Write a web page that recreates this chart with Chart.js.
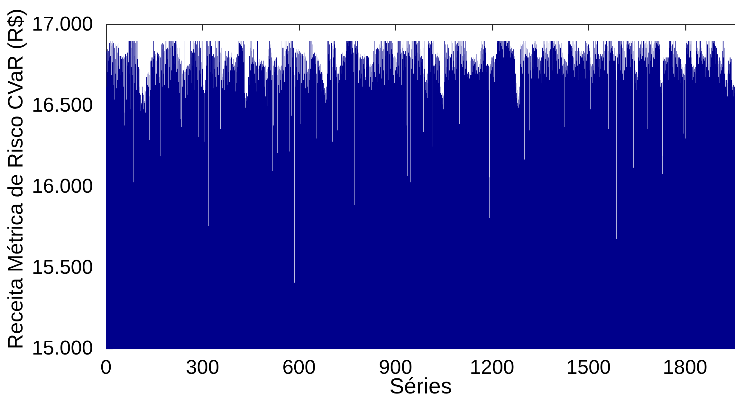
<!DOCTYPE html>
<html><head><meta charset="utf-8">
<script src="https://cdn.jsdelivr.net/npm/chart.js@4.4.0/dist/chart.umd.min.js"></script>
<style>html,body{margin:0;padding:0;background:#fff}#wrap{width:735px;height:397px;position:relative}</style>
</head><body><div id="wrap"><canvas id="c"></canvas></div>
<script>
const yTickValues = [15000, 15500, 16000, 16500, 17000];
const yTickLabels = ['15.000', '15.500', '16.000', '16.500', '17.000'];
const xTickValues = [0, 300, 600, 900, 1200, 1500, 1800];
const xTickLabels = ['0', '300', '600', '900', '1200', '1500', '1800'];
const xTitle = 'Séries';
const yTitle = 'Receita Métrica de Risco CVaR (R$)';
const revenue = [
16840,16620,16830,16710,16850,16550,16780,16840,16660,16800,
16890,16740,16900,16810,16580,16890,16690,16870,16900,16770,
16880,16720,16890,16630,16760,16860,16540,16880,16790,16700,
16700,16870,16610,16880,16830,16660,16890,16750,16860,16590,
16810,16730,16800,16580,16810,16690,16560,16790,16810,16640,
16800,16710,16810,16620,16790,16460,16380,16800,16730,16820,
16820,16680,16810,16540,16800,16750,16830,16620,16900,16770,
16900,16820,16900,16700,16890,16900,16480,16860,16740,16900,
16880,16900,16690,16890,16030,16900,16810,16640,16900,16870,
16890,16760,16870,16900,16600,16860,16900,16790,16840,16710,
16740,16660,16730,16580,16620,16550,16570,16470,16540,16520,
16510,16440,16580,16620,16500,16570,16480,16600,16530,16520,
16510,16590,16460,16640,16600,16680,16550,16700,16630,16690,
16700,16620,16710,16560,16290,16690,16770,16600,16780,16700,
16780,16800,16660,16740,16800,16570,16790,16900,16680,16810,
16840,16750,16820,16630,16840,16780,16700,16840,16590,16830,
16810,16660,16820,16800,16680,16640,16810,16740,16800,16190,
16860,16880,16720,16850,16620,16890,16830,16700,16880,16800,
16840,16630,16870,16900,16760,16860,16680,16850,16900,16710,
16860,16790,16900,16610,16850,16830,16900,16740,16860,16660,
16900,16830,16900,16720,16440,16900,16870,16690,16900,16810,
16900,16760,16890,16900,16630,16900,16840,16900,16710,16880,
16860,16730,16820,16780,16650,16800,16860,16580,16790,16770,
16420,16760,16690,16780,16370,16720,16700,16620,16710,16670,
16720,16600,16710,16660,16900,16720,16550,16710,16640,16730,
16740,16660,16750,16570,16740,16690,16750,16610,16730,16760,
16840,16720,16900,16800,16640,16840,16900,16750,16830,16690,
16900,16850,16720,16890,16830,16600,16860,16900,16780,16840,
16880,16740,16850,16900,16660,16860,16810,16310,16880,16720,
16900,16840,16700,16860,16900,16770,16620,16850,16900,16730,
16620,16550,16600,16630,16510,16580,16280,16610,16660,16600,
16890,16900,16750,16880,16810,16900,16690,16870,15760,16900,
16900,16820,16860,16710,16900,16840,16650,16870,16900,16780,
16810,16700,16790,16820,16610,16780,16800,16730,16810,16680,
16900,16780,16860,16620,16900,16810,16740,16830,16900,16690,
16840,16770,16900,16710,16830,16360,16800,16860,16660,16820,
16680,16610,16700,16560,16730,16660,16750,16600,16780,16700,
16780,16840,16690,16810,16750,16830,16630,16800,16820,16710,
16840,16760,16800,16650,16820,16790,16720,16810,16580,16800,
16830,16700,16760,16720,16620,16740,16790,16660,16720,16750,
16730,16590,16770,16710,16640,16800,16690,16740,16820,16670,
16900,16810,16900,16730,16890,16900,16660,16880,16900,16790,
16870,16900,16700,16860,16840,16620,16900,16770,16850,16880,
16580,16520,16550,16490,16570,16530,16580,16460,16540,16560,
16550,16500,16680,16900,16760,16810,16630,16860,16720,16900,
16840,16760,16900,16680,16800,16770,16620,16850,16760,16790,
16780,16700,16760,16640,16770,16740,16590,16750,16780,16690,
16900,16760,16730,16660,16770,16600,16750,16790,16710,16760,
16770,16650,16780,16720,16580,16760,16740,16690,16780,16750,
16750,16620,16740,16680,16750,16560,16740,16710,16660,16750,
16730,16670,16500,16810,16740,16850,16630,16900,16790,16880,
16860,16720,16830,16660,16800,16780,16690,16100,16770,16750,
16380,16760,16710,16780,16600,16790,16740,16770,16670,16800,
16780,16690,16210,16740,16720,16630,16750,16740,16580,16730,
16740,16660,16720,16900,16750,16600,16730,16700,16860,16770,
16860,16720,16900,16810,16650,16880,16840,16740,16900,16790,
16850,16900,16680,16870,16820,16900,16760,16840,16630,16890,
16220,16900,16860,16740,16890,16900,16440,16880,16800,16900,
16870,16710,16860,16840,16690,15410,16850,16780,16830,16620,
16850,16800,16740,16840,16660,16830,16850,16710,16820,16790,
16840,16700,16810,16390,16830,16760,16820,16640,16800,16810,
16820,16730,16810,16660,16800,16830,16700,16790,16810,16610,
16800,16740,16780,16700,16720,16620,16710,16690,16730,16580,
16700,16660,16900,16840,16900,16730,16880,16900,16790,16860,
16880,16800,16840,16670,16820,16790,16730,16830,16800,16650,
16810,16760,16820,16700,16300,16800,16780,16640,16790,16740,
16780,16680,16750,16720,16620,16760,16700,16730,16590,16710,
16100,16700,16660,16720,16580,16640,16600,16550,16610,16570,
16600,16520,16580,16560,16620,16540,16750,16900,16700,16800,
16820,16900,16670,16780,16880,16730,16790,16660,16110,16860,
16890,16900,16740,16280,16870,16900,16800,16850,16700,16900,
16880,16820,16860,16720,16760,16680,16740,16650,16700,16350,
16720,16640,16700,16600,16740,16660,16710,16570,16750,16690,
16790,16820,16700,16800,16750,16830,16640,16810,16780,16720,
16810,16770,16820,16660,16800,16900,16840,16900,16730,16890,
16900,16820,16870,16900,16700,16880,16900,16790,16860,16900,
16850,16740,16900,16820,16680,16860,16900,16770,16830,16710,
16840,16880,15890,16100,16860,16900,16750,16820,16870,16690,
16850,16900,16780,16830,16640,16810,16800,16720,16790,16820,
16800,16670,16780,16790,16700,16770,16810,16620,16800,16760,
16790,16820,16730,16800,16810,16680,16660,16790,16740,16810,
16800,16700,16810,16770,16640,16800,16760,16740,16620,16750,
16760,16680,16740,16710,16600,16750,16700,16760,16650,16740,
16840,16770,16860,16900,16710,16850,16820,16680,16860,16800,
16850,16730,16840,16860,16650,16830,16850,16760,16840,16700,
16880,16900,16740,16860,16820,16900,16670,16870,16840,16790,
16900,16850,16720,16880,16900,16630,16860,16810,16900,16750,
16870,16890,16700,16900,16840,16900,16780,16890,16660,16900,
16900,16820,16890,16900,16730,16880,16900,16850,16610,16890,
16820,16760,16800,16690,16790,16810,16640,16780,16800,16720,
16800,16770,16740,16790,16900,16830,16700,16860,16900,16750,
16840,16900,16680,16850,16820,16900,16770,16830,16630,16880,
16860,16790,16900,16720,16840,16880,16670,16820,16900,16800,
16840,16740,16900,16810,16380,16860,16070,16900,16780,16830,
16900,16760,16810,16880,16690,16800,16030,16900,16850,16730,
16880,16900,16790,16860,16900,16700,16870,16840,16900,16760,
16860,16900,16810,16720,16880,16900,16830,16660,16890,16870,
16900,16780,16820,16740,16900,16850,16690,16800,16840,16770,
16810,16900,16750,16790,16820,16700,16340,16860,16900,16730,
16680,16620,16650,16600,16090,16660,16580,16640,16550,16700,
16750,16880,16900,16790,16890,16860,16900,16710,16880,16900,
16840,16900,16770,16890,16820,16250,16900,16750,16740,16680,
16750,16700,16730,16820,16760,16810,16660,16800,16830,16720,
16810,16790,16640,16800,16820,16750,16780,16690,16620,16580,
16580,16530,16570,16490,16580,16550,16510,16570,16480,16560,
16720,16900,16650,16800,16700,16880,16740,16680,16830,16720,
16880,16790,16840,16660,16860,16780,16810,16720,16850,16770,
16800,16870,16690,16820,16900,16740,16720,16890,16630,16840,
16780,16900,16700,16740,16870,16660,16900,16800,16730,16880,
16900,16840,16890,16780,16900,16870,16720,16900,16390,16880,
16900,16820,16880,16900,16760,16870,16900,16740,16810,16850,
16900,16780,16820,16690,16860,16800,16900,16730,16790,16840,
16780,16720,16680,16700,16630,16690,16710,16590,16700,16670,
16700,16640,16690,16780,16740,16800,16690,16770,16790,16710,
16800,16750,16780,16660,16790,16760,16800,16700,16770,16740,
16820,16720,16680,16780,16700,16800,16640,16740,16690,16760,
16710,16660,16790,16730,16840,16900,16760,16860,16820,16710,
16880,16900,16780,16850,16690,16870,16900,16740,16830,16860,
16760,16710,16750,16630,16740,16760,16680,16730,16750,16600,
16740,15810,16060,16750,16700,16760,16780,16720,16800,16770,
16800,16740,16790,16680,16810,16780,16770,16650,16800,16790,
16790,16720,16800,16820,16900,16860,16900,16890,16770,16900,
16900,16880,16900,16840,16900,16890,16900,16820,16900,16870,
16900,16900,16850,16890,16900,16800,16900,16880,16900,16860,
16890,16900,16830,16900,16870,16900,16780,16890,16900,16850,
16900,16860,16890,16900,16840,16870,16800,16850,16780,16830,
16860,16750,16820,16840,16720,16800,16850,16700,16810,16790,
16760,16660,16700,16620,16640,16580,16550,16600,16520,16500,
16560,16490,16540,16580,16510,16620,16880,16760,16850,16820,
16870,16740,16840,16880,16700,16860,16900,16780,16830,16800,
16170,16890,16760,16820,16900,16680,16810,16860,16740,16800,
16850,16740,16800,16700,16780,16830,16350,16770,16720,16810,
16760,16820,16670,16790,16740,16880,16900,16800,16860,16730,
16890,16840,16900,16780,16860,16900,16710,16850,16880,16800,
16800,16740,16780,16790,16670,16770,16800,16720,16760,16700,
16780,16750,16640,16800,16900,16820,16860,16730,16900,16840,
16810,16880,16700,16900,16850,16790,16830,16900,16680,16860,
16900,16780,16820,16890,16740,16800,16900,16840,16660,16880,
16900,16850,16880,16760,16900,16860,16840,16900,16720,16890,
16860,16900,16800,16870,16900,16740,16880,16840,16900,16780,
16850,16900,16820,16700,16860,16900,16790,16840,16880,16730,
16900,16830,16860,16770,16890,16800,16720,16830,16750,16690,
16800,16700,16760,16650,16790,16370,16740,16680,16780,16620,
16720,16770,16600,16700,16750,16660,16820,16900,16850,16880,
16900,16860,16790,16880,16900,16760,16870,16840,16900,16810,
16860,16900,16720,16800,16880,16680,16760,16900,16840,16740,
16820,16780,16900,16700,16840,16750,16800,16660,16860,16790,
16840,16760,16820,16700,16810,16830,16680,16800,16840,16740,
16820,16800,16690,16840,16780,16810,16730,16830,16800,16670,
16900,16850,16890,16780,16900,16870,16820,16900,16760,16880,
16900,16860,16840,16720,16800,16480,16760,16740,16680,16750,
16730,16760,16640,16750,16720,16900,16800,16860,16700,16780,
16900,16820,16740,16880,16790,16860,16660,16900,16800,16760,
16820,16740,16810,16790,16680,16800,16820,16730,16790,16810,
16800,16700,16820,16780,16860,16900,16800,16880,16840,16720,
16900,16850,16880,16760,16860,16900,16820,16870,16700,16890,
16900,16360,16840,16880,16900,16780,16850,16830,16900,16740,
16860,16900,16800,16840,16870,16720,16820,16780,16800,16860,
16780,16840,16720,16810,16790,16660,15680,16830,16760,16800,
16820,16880,16900,16760,16860,16900,16820,16870,16720,16900,
16850,16880,16900,16800,16860,16700,16820,16900,16660,16750,
16840,16720,16900,16690,16800,16760,16880,16740,16900,16820,
16900,16860,16800,16880,16900,16770,16850,16890,16900,16740,
16870,16900,16820,16890,16860,16900,16790,16880,16840,16120,
16890,16900,16780,16860,16720,16700,16640,16690,16710,16600,
16700,16660,16680,16760,16900,16800,16720,16860,16780,16840,
16820,16880,16700,16900,16790,16740,16860,16810,16900,16680,
16900,16840,16880,16780,16900,16860,16800,16890,16900,16740,
16860,16880,16800,16360,16900,16760,16830,16860,16700,16900,
16800,16780,16880,16720,16900,16820,16790,16860,16740,16880,
16840,16800,16880,16900,16790,16890,16900,16860,16900,16820,
16890,16900,16840,16900,16880,16760,16900,16870,16900,16850,
16880,16740,16660,16620,16660,16580,16640,16600,16650,16080,
16190,16660,16780,16800,16740,16790,16700,16800,16780,16720,
16790,16800,16760,16700,16800,16770,16790,16660,16800,16780,
16860,16900,16820,16880,16900,16760,16870,16840,16900,16800,
16880,16740,16900,16700,16820,16760,16860,16680,16780,16900,
16800,16730,16840,16760,16700,16820,16740,16780,16660,16800,
16760,16720,16800,16680,16740,16790,16640,16760,16730,16700,
16740,16680,16720,16620,16700,16330,16740,16660,16690,16720,
16760,16300,16900,16860,16890,16900,16820,16880,16900,16850,
16900,16870,16900,16800,16890,16900,16840,16880,16900,16760,
16800,16700,16740,16660,16720,16680,16750,16620,16710,16730,
16700,16640,16740,16720,16840,16900,16780,16860,16820,16900,
16840,16760,16880,16900,16800,16850,16720,16900,16830,16860,
16840,16780,16800,16760,16820,16700,16790,16810,16740,16800,
16780,16820,16680,16800,16790,16900,16740,16840,16700,16880,
16800,16900,16720,16760,16860,16680,16900,16780,16820,16740,
16900,16860,16800,16880,16900,16840,16780,16890,16900,16820,
16880,16900,16840,16760,16870,16900,16820,16860,16900,16800,
16820,16740,16780,16680,16760,16720,16800,16640,16740,16700,
16780,16660,16720,16760,16900,16740,16840,16680,16900,16800,
16720,16860,16700,16740,16660,16620,16720,16580,16660,16600,
16700,16560,16640,16680,16780,16720,16800,16760,16700,16790,
16770,16800,16740,16790,16660,16640,16620,16600,16640,16560,
16630,16600,16580,16620,16610
];
const seriesNo = revenue.map((_, i) => i + 1);

const FONT = "'Liberation Sans', Arial, Helvetica, sans-serif";
const BAR = '#00008B';
const X_MAX = 1956;
const PLOT_W = 735 - 106;
const DPR = X_MAX / PLOT_W;

const framePlugin = {
  id: 'frame',
  beforeDatasetsDraw(chart) {
    const { ctx, chartArea: a, scales: { x, y } } = chart;
    ctx.save();
    ctx.strokeStyle = '#262626';
    ctx.lineWidth = 1;
    ctx.beginPath();
    const L = a.left + 0.5, T = a.top - 0.5;
    ctx.moveTo(L, a.bottom);
    ctx.lineTo(L, T);
    ctx.lineTo(a.right, T);
    xTickValues.forEach(v => {
      const px = Math.round(x.getPixelForValue(v)) + 0.5;
      ctx.moveTo(px, T);
      ctx.lineTo(px, T + 6);
    });
    yTickValues.forEach(v => {
      const py = Math.round(y.getPixelForValue(v)) - 0.5;
      ctx.moveTo(L, py);
      ctx.lineTo(L + 6, py);
    });
    ctx.stroke();
    ctx.restore();
  }
};

new Chart(document.getElementById('c'), {
  type: 'bar',
  data: {
    datasets: [{
      data: revenue.map((v, i) => ({ x: seriesNo[i], y: v })),
      backgroundColor: BAR,
      borderWidth: 0,
      barThickness: 1.25 / DPR,
      inflateAmount: 0,
      base: 15000
    }]
  },
  options: {
    responsive: true,
    maintainAspectRatio: false,
    animation: false,
    devicePixelRatio: DPR,
    events: [],
    layout: { padding: { left: 0, right: 0, top: 17, bottom: 0 } },
    plugins: { legend: { display: false }, tooltip: { enabled: false } },
    scales: {
      x: {
        type: 'linear', min: 0, max: X_MAX, offset: false,
        grid: { display: false, drawTicks: false },
        border: { display: false },
        ticks: {
          padding: 7, color: '#000', maxRotation: 0, autoSkip: false,
          font: { family: FONT, size: 20 },
          callback: v => { const k = xTickValues.indexOf(v); return k >= 0 ? xTickLabels[k] : ''; }
        },
        afterBuildTicks: s => { s.ticks = xTickValues.map(v => ({ value: v })); },
        afterFit: s => { s.height = 48; },
        title: { display: true, text: xTitle, color: '#000', font: { family: FONT, size: 22, lineHeight: 0.9 }, padding: { top: 0, bottom: 0 } }
      },
      y: {
        min: 15000, max: 17000,
        grid: { display: false, drawTicks: false },
        border: { display: false },
        ticks: {
          padding: 13, color: '#000',
          font: { family: FONT, size: 20 },
          callback: v => { const k = yTickValues.indexOf(v); return k >= 0 ? yTickLabels[k] : ''; }
        },
        afterBuildTicks: s => { s.ticks = yTickValues.map(v => ({ value: v })); },
        afterFit: s => { s.width = 106; },
        title: { display: true, text: yTitle, color: '#000', align: 'start', font: { family: FONT, size: 21, lineHeight: 1.2 }, padding: { top: 4, bottom: 0 } }
      }
    }
  },
  plugins: [framePlugin]
});
</script></body></html>
